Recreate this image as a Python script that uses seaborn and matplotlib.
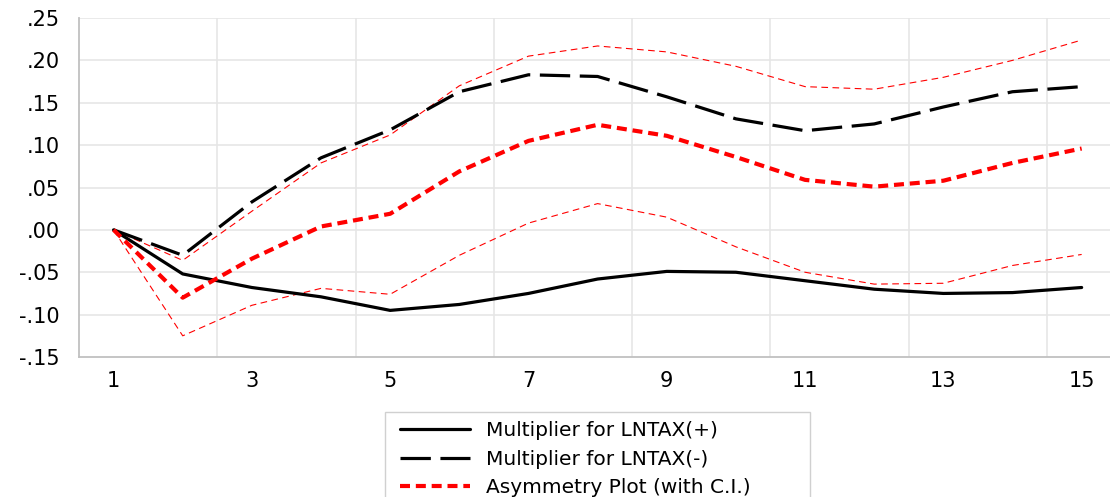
import pandas as pd
import matplotlib
matplotlib.use("Agg")
from matplotlib import pyplot as plt
from matplotlib.lines import Line2D
from matplotlib.patches import Rectangle
import seaborn as sns

# horizon (periods)
periods = list(range(1, 16))

# cumulative dynamic multipliers
mult_pos = [0.000, -0.052, -0.068, -0.079, -0.095, -0.088, -0.075, -0.058,
            -0.049, -0.050, -0.060, -0.070, -0.075, -0.074, -0.068]
mult_neg = [0.000, -0.030, 0.033, 0.085, 0.118, 0.163, 0.183, 0.181,
            0.157, 0.131, 0.117, 0.125, 0.145, 0.163, 0.169]
asym = [0.000, -0.080, -0.034, 0.004, 0.019, 0.069, 0.105, 0.124,
        0.111, 0.086, 0.059, 0.051, 0.058, 0.079, 0.096]
ci_upper = [0.000, -0.036, 0.022, 0.079, 0.112, 0.170, 0.205, 0.217,
            0.210, 0.193, 0.169, 0.166, 0.180, 0.200, 0.224]
ci_lower = [0.000, -0.125, -0.089, -0.069, -0.076, -0.030, 0.008, 0.031,
            0.015, -0.020, -0.050, -0.064, -0.063, -0.042, -0.029]

y_ticks = [-0.15, -0.10, -0.05, 0.00, 0.05, 0.10, 0.15, 0.20, 0.25]
y_labels = ["-.15", "-.10", "-.05", ".00", ".05", ".10", ".15", ".20", ".25"]
x_ticks = [1, 3, 5, 7, 9, 11, 13, 15]

labels = ["Multiplier for LNTAX(+)", "Multiplier for LNTAX(-)",
          "Asymmetry Plot (with C.I.)"]

df = pd.DataFrame({"period": periods, "pos": mult_pos, "neg": mult_neg,
                   "asym": asym, "up": ci_upper, "lo": ci_lower})

sns.set_style("white")
plt.rcParams["font.family"] = ["DejaVu Sans"]
plt.rcParams["text.color"] = "black"
plt.rcParams["xtick.color"] = "black"
plt.rcParams["ytick.color"] = "black"

W, H = 1110, 497
fig = plt.figure(figsize=(W / 100, H / 100), dpi=100)
ax = fig.add_axes([79 / W, 1 - 357 / H, 1 - 79 / W, (357 - 18) / H])

red = "#ff0000"
ci_style = dict(color=red, linewidth=0.8, linestyle=(0, (6, 4)))
sns.lineplot(data=df, x="period", y="up", ax=ax, **ci_style)
sns.lineplot(data=df, x="period", y="lo", ax=ax, **ci_style)
sns.lineplot(data=df, x="period", y="pos", ax=ax, color="black", linewidth=2.3)
sns.lineplot(data=df, x="period", y="neg", ax=ax, color="black", linewidth=2.3,
             linestyle=(0, (9.5, 3)))
sns.lineplot(data=df, x="period", y="asym", ax=ax, color=red, linewidth=3.0,
             linestyle=(0, (2.4, 1.4)))

ax.set_xlim(0.5, 15.41)
ax.set_ylim(-0.15, 0.25)
ax.set_yticks(y_ticks)
ax.set_yticklabels(y_labels, fontsize=15)
ax.set_xticks(x_ticks)
ax.set_xticklabels([str(t) for t in x_ticks], fontsize=15)
ax.set_xlabel("")
ax.set_ylabel("")
ax.tick_params(axis="both", length=0)
ax.tick_params(axis="x", pad=10)
ax.tick_params(axis="y", pad=14)

# grid
for yv in y_ticks[1:]:
    ax.axhline(yv, color="#e6e6e6", linewidth=1.2, zorder=0)
for xv in [2.5, 4.5, 6.5, 8.5, 10.5, 12.5, 14.5]:
    ax.axvline(xv, color="#e6e6e6", linewidth=1.2, zorder=0)

for side in ["top", "right"]:
    ax.spines[side].set_visible(False)
for side in ["left", "bottom"]:
    ax.spines[side].set_color("#c0c0c0")
    ax.spines[side].set_linewidth(1.3)

# legend box (runs off the bottom of the image like the original)
fig.patches.append(Rectangle((385 / W, -0.05), 425 / W, 0.05 + (H - 412) / H,
                             transform=fig.transFigure, facecolor="white",
                             edgecolor="#d0d0d0", linewidth=1.0))

handles = [
    Line2D([], [], color="black", linewidth=2.3),
    Line2D([], [], color="black", linewidth=2.3, linestyle=(0, (9.5, 3))),
    Line2D([], [], color=red, linewidth=3.0, linestyle=(0, (2.4, 1.4))),
]
leg = fig.legend(handles, labels, loc="upper left",
                 bbox_to_anchor=(400 / W, 1 - 421 / H),
                 fontsize=14.5, frameon=False,
                 handlelength=3.5, handletextpad=0.75, labelspacing=0.48,
                 borderpad=0, borderaxespad=0)

fig.savefig("out.png", dpi=100)
